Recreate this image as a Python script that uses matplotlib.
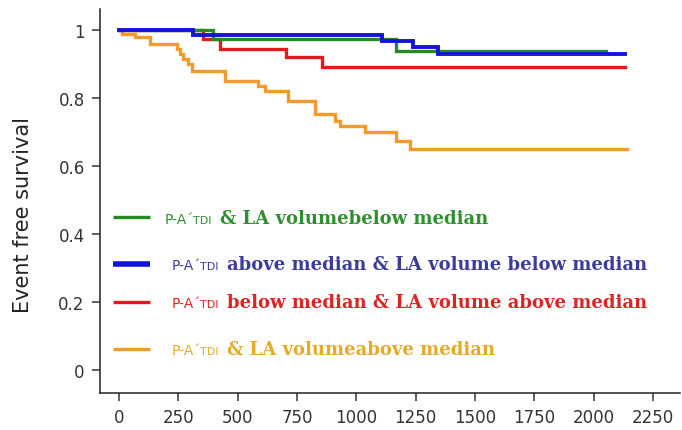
import numpy as np
import matplotlib
matplotlib.use("Agg")
import matplotlib.pyplot as plt

# Kaplan-Meier steps (days, survival)
green_t = [0, 396, 1169, 2054]
green_s = [1.0, 0.974, 0.937, 0.937]

blue_t = [0, 313, 1106, 1239, 1344, 2131]
blue_s = [1.0, 0.986, 0.969, 0.949, 0.929, 0.929]

red_t = [0, 355, 424, 705, 853, 2131]
red_s = [1.0, 0.975, 0.944, 0.922, 0.892, 0.892]

orange_t = [0, 10, 66, 129, 242, 256, 270, 291, 305, 445, 586, 614,
            712, 825, 909, 930, 1035, 1169, 1225, 2140]
orange_s = [1.0, 0.988, 0.979, 0.959, 0.944, 0.929, 0.915, 0.9, 0.88, 0.851,
            0.836, 0.821, 0.79, 0.753, 0.733, 0.718, 0.699, 0.674, 0.65, 0.65]

x_ticks = [0, 250, 500, 750, 1000, 1250, 1500, 1750, 2000, 2250]
y_ticks = [0, 0.2, 0.4, 0.6, 0.8, 1]
y_ticklabels = ["0", "0.2", "0.4", "0.6", "0.8", "1"]

legend_rest = ["& LA volumebelow median",
               "above median & LA volume below median",
               "below median & LA volume above median",
               "& LA volumeabove median"]

line_cols = ["#228b22", "#1414dc", "#e41a1a", "#f39a2e"]
text_cols = ["#2f8f2f", "#3c3c9c", "#dc2424", "#e4aa28"]

plt.rcParams['font.family'] = ['DejaVu Sans']

fig = plt.figure(figsize=(6.82, 4.31), dpi=100)
ax = fig.add_axes([0.1466, 0.0858, 0.850, 0.891])

series = [(green_t, green_s), (blue_t, blue_s), (red_t, red_s), (orange_t, orange_s)]
widths = [2.4, 2.8, 2.4, 2.4]
# orange under, then red, green, blue on top
for i in [3, 2, 0, 1]:
    t, s = series[i]
    ax.step(t, s, where='post', color=line_cols[i], lw=widths[i], solid_joinstyle='miter')

ax.set_xlim(-81, 2363)
ax.set_ylim(-0.068, 1.062)
ax.set_xticks(x_ticks)
ax.set_yticks(y_ticks)
ax.set_yticklabels(y_ticklabels)
ax.tick_params(labelsize=12, length=6, width=1.1, colors="#333333", pad=5)
for sp in ['top', 'right']:
    ax.spines[sp].set_visible(False)
for sp in ['left', 'bottom']:
    ax.spines[sp].set_linewidth(1.1)
    ax.spines[sp].set_color("#222222")
ax.set_ylabel("Event free survival", fontsize=15, color="#222222")
ax.yaxis.set_label_coords(-0.116, 0.466)

# hand-made legend (mixed fonts)
rows_y = [0.458, 0.336, 0.237, 0.115]
text_x = [0.112, 0.124, 0.124, 0.124]
for i in range(4):
    y = rows_y[i]
    ax.plot([0.022, 0.086], [y, y], transform=ax.transAxes, color=line_cols[i],
            lw=4 if i == 1 else 2.4, solid_capstyle='butt')
    t1 = ax.text(text_x[i], y - 0.014, "P-A\u00b4", transform=ax.transAxes,
                 fontsize=10, color=text_cols[i], va='baseline')
    t2 = ax.annotate("TDI", xy=(1, y - 0.014), xycoords=(t1, 'axes fraction'),
                     xytext=(-1, 0), textcoords='offset points',
                     fontsize=8, color=text_cols[i], va='baseline')
    ax.annotate(legend_rest[i], xy=(1, y - 0.014), xycoords=(t2, 'axes fraction'),
                xytext=(6, 0), textcoords='offset points',
                fontsize=13, fontweight='bold', family='DejaVu Serif',
                color=text_cols[i], va='baseline')

fig.savefig("out.png", dpi=100)
